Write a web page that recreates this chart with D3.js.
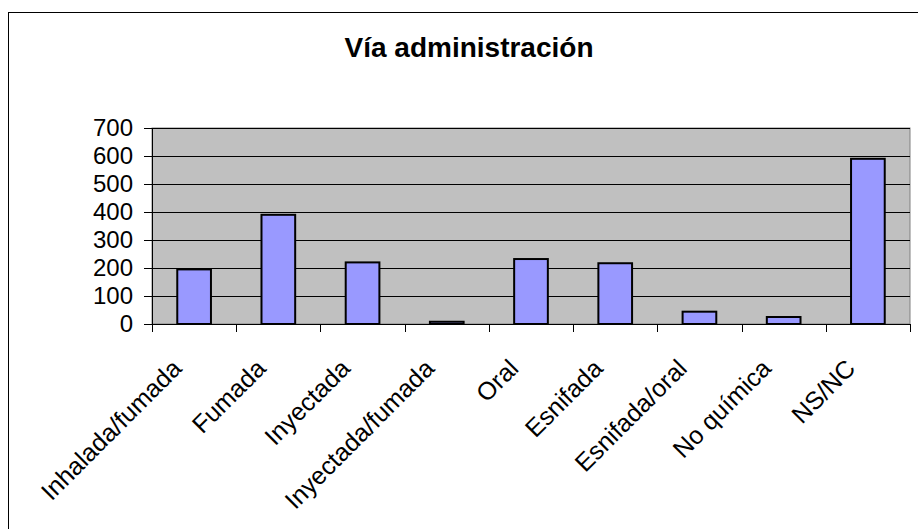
<!DOCTYPE html>
<html>
<head>
<meta charset="utf-8">
<script src="https://cdn.jsdelivr.net/npm/d3@7"></script>
<style>
  body { margin: 0; background: #fff; }
  text { font-family: Arial, "Liberation Sans", sans-serif; }
</style>
</head>
<body>
<div id="chart"></div>
<script>
// Vía administración - bar chart
var categories = ["Inhalada/fumada", "Fumada", "Inyectada", "Inyectada/fumada",
                  "Oral", "Esnifada", "Esnifada/oral", "No química", "NS/NC"];
var values = [195, 390, 220, 8, 232, 217, 44, 25, 590];
var yTicks = [0, 100, 200, 300, 400, 500, 600, 700];
var title = "Vía administración";

var width = 918, height = 529;
var plot = {left: 152, top: 128, right: 910, bottom: 324};

var svg = d3.select("#chart").append("svg")
    .attr("width", width)
    .attr("height", height);

// outer chart frame
svg.append("rect")
    .attr("x", 8.5).attr("y", 12.5)
    .attr("width", width).attr("height", height)
    .attr("fill", "#fff")
    .attr("stroke", "#000")
    .attr("stroke-width", 1);

svg.append("text")
    .attr("x", 469).attr("y", 57)
    .attr("text-anchor", "middle")
    .attr("font-size", 28)
    .attr("font-weight", "bold")
    .text(title);

var x = d3.scaleBand()
    .domain(categories)
    .range([plot.left, plot.right]);

var y = d3.scaleLinear()
    .domain([0, 700])
    .range([plot.bottom, plot.top]);

// plot background
svg.append("rect")
    .attr("x", plot.left).attr("y", plot.top)
    .attr("width", plot.right - plot.left)
    .attr("height", plot.bottom - plot.top)
    .attr("fill", "#c0c0c0")
    .attr("stroke", "#808080")
    .attr("stroke-width", 1);

// gridlines
svg.append("g").selectAll("line")
    .data(yTicks.slice(1))
    .enter().append("line")
    .attr("x1", plot.left).attr("x2", plot.right)
    .attr("y1", function (d) { return Math.round(y(d)) + 0.5; })
    .attr("y2", function (d) { return Math.round(y(d)) + 0.5; })
    .attr("stroke", "#000")
    .attr("stroke-width", 1);

// bars - Excel style gap width 150%
var barW = x.bandwidth() / 2.5;
svg.append("g").selectAll("rect")
    .data(values)
    .enter().append("rect")
    .attr("x", function (d, i) { return x(categories[i]) + (x.bandwidth() - barW) / 2; })
    .attr("y", function (d) { return y(d); })
    .attr("width", barW)
    .attr("height", function (d) { return y(0) - y(d); })
    .attr("fill", "#9999ff")
    .attr("stroke", "#000")
    .attr("stroke-width", 2);

// y axis
var yAxis = svg.append("g")
    .attr("transform", "translate(" + plot.left + ",0)")
    .call(d3.axisLeft(y).tickValues(yTicks).tickSize(8).tickPadding(11));
yAxis.select(".domain").attr("stroke", "#000");
yAxis.selectAll("text")
    .attr("font-size", 24)
    .attr("fill", "#000")
    .attr("font-family", "Arial, 'Liberation Sans', sans-serif");

// x axis - ticks on category boundaries
var xAxisG = svg.append("g");
xAxisG.append("line")
    .attr("x1", plot.left).attr("x2", plot.right)
    .attr("y1", plot.bottom + 0.5).attr("y2", plot.bottom + 0.5)
    .attr("stroke", "#000");
var bounds = categories.map(function (c) { return x(c); }).concat([plot.right]);
xAxisG.selectAll(".tk")
    .data(bounds)
    .enter().append("line")
    .attr("x1", function (d) { return Math.round(d) + 0.5; })
    .attr("x2", function (d) { return Math.round(d) + 0.5; })
    .attr("y1", plot.bottom)
    .attr("y2", plot.bottom + 8)
    .attr("stroke", "#000");

xAxisG.selectAll(".lbl")
    .data(categories)
    .enter().append("text")
    .attr("text-anchor", "end")
    .attr("font-size", 25)
    .attr("transform", function (d) {
        return "translate(" + (x(d) + x.bandwidth() / 2 - 11) + "," + (plot.bottom + 46) + ") rotate(-45)";
    })
    .text(function (d) { return d; });
</script>
</body>
</html>
